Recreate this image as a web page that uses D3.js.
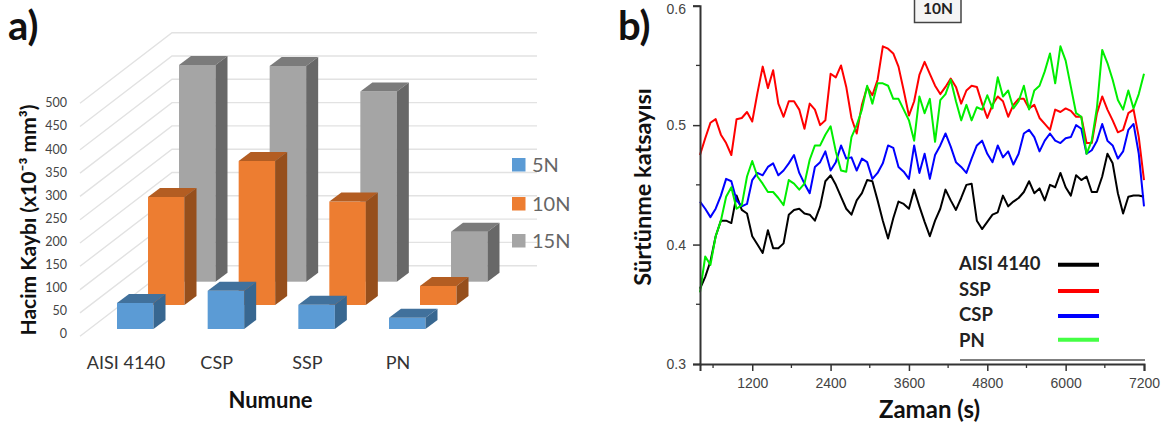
<!DOCTYPE html>
<html><head><meta charset="utf-8">
<script src="https://cdn.jsdelivr.net/npm/d3@7"></script>
<style>html,body{margin:0;padding:0;background:#fff}svg{display:block}</style>
</head><body><svg id="c" width="1169" height="428"></svg>
<script>
// ---- panel a data ----
const samples = ["AISI 4140","CSP","SSP","PN"];
const loads = ["5N","10N","15N"];
const wear5N = [56,82,52,24];
const wear10N = [232,309,222,41];
const wear15N = [465,463,408,107];
const wearTicks = [0,50,100,150,200,250,300,350,400,450,500];
// ---- panel b data ----
const timeS = [400,480,560,640,720,800,880,960,1040,1120,1200,1280,1360,1440,1520,1600,1680,1760,1840,1920,2000,2080,
2160,2240,2320,2400,2480,2560,2640,2720,2800,2880,2960,3040,3120,3200,3280,3360,3440,3520,3600,3680,3760,3840,
3920,4000,4080,4160,4240,4320,4400,4480,4560,4640,4720,4800,4880,4960,5040,5120,5200,5280,5360,5440,5520,
5600,5680,5760,5840,5920,6000,6080,6160,6240,6320,6400,6480,6560,6640,6720,6800,6880,6960,7040,7120,7200];
const cofAISI = [.363,.373,.386,.407,.420,.420,.418,.441,.429,.426,.407,.400,.393,.412,.397,.397,.401,.425,.429,.430,.426,.425,
.420,.432,.453,.458,.450,.440,.430,.425,.437,.443,.454,.453,.437,.420,.405,.422,.436,.434,.430,.446,.432,.419,
.407,.420,.430,.446,.437,.429,.439,.450,.451,.420,.413,.419,.425,.427,.441,.432,.436,.439,.444,.453,.443,
.447,.437,.450,.448,.460,.448,.441,.458,.454,.457,.444,.444,.457,.476,.468,.443,.426,.440,.441,.441,.440];
const cofSSP = [.475,.489,.502,.505,.492,.485,.475,.505,.506,.511,.503,.527,.549,.531,.546,.518,.507,.520,.520,.513,.497,.518,
.513,.500,.504,.543,.540,.550,.532,.506,.493,.517,.532,.525,.538,.566,.564,.560,.549,.529,.508,.520,.542,.553,
.543,.533,.526,.532,.539,.532,.518,.529,.533,.532,.518,.506,.517,.524,.520,.507,.517,.522,.522,.514,.517,
.506,.501,.496,.513,.511,.514,.512,.507,.507,.485,.485,.510,.524,.513,.504,.494,.496,.510,.513,.490,.454];
const cofCSP = [.436,.430,.423,.430,.441,.455,.453,.437,.432,.434,.454,.460,.458,.465,.468,.458,.462,.468,.475,.460,.451,.443,
.465,.469,.478,.462,.469,.483,.472,.473,.462,.472,.469,.455,.460,.468,.483,.481,.465,.461,.455,.483,.460,.476,
.455,.475,.483,.493,.482,.469,.465,.460,.472,.483,.487,.476,.469,.483,.473,.478,.467,.476,.493,.496,.490,
.478,.487,.493,.487,.485,.489,.490,.500,.497,.476,.479,.487,.501,.487,.483,.472,.478,.496,.501,.476,.432];
const cofPN = [.360,.390,.383,.407,.420,.440,.448,.430,.433,.457,.470,.457,.451,.444,.444,.439,.433,.454,.451,.446,.451,.471,
.483,.483,.492,.499,.478,.462,.461,.490,.500,.513,.533,.518,.535,.535,.533,.522,.522,.513,.504,.487,.524,.510,
.522,.486,.521,.526,.538,.520,.504,.517,.504,.515,.513,.525,.514,.540,.524,.529,.514,.520,.533,.513,.529,
.533,.545,.560,.535,.566,.554,.532,.510,.507,.476,.487,.515,.563,.552,.538,.521,.513,.529,.514,.526,.543];
const cofMajor = [0.3,0.4,0.5,0.6];
const cofMinor = [0.35,0.45,0.55];
const timeMajor = [1200,2400,3600,4800,6000,7200];
const timeMinor = [600,1800,3000,4200,5400,6600];
const legendNames = ["AISI 4140","SSP","CSP","PN"];

const svg = d3.select("#c");
const calibri = "Lato, 'Open Sans', sans-serif";
const bold = "Lato, 'Open Sans', sans-serif";
const arial = "'Liberation Sans', Arial, sans-serif";

// ---- panel a ----
const a = svg.append("g");
const wearH = d3.scaleLinear().domain([0,500]).range([0,233]);
const wearLabelY = d3.scaleLinear().domain([0,500]).range([334,103]);
const wallBase = 265.7, wallX = 172, wallRight = 537, sideX = 80, sideDrop = 70.5;
const grid = a.append("g").attr("stroke","#e2e2e2").attr("stroke-width",1.4).attr("fill","none");
wearTicks.forEach(v=>{
  const y = wallBase - wearH(v);
  grid.append("polyline").attr("points",`${sideX},${y+sideDrop} ${wallX},${y} ${wallRight},${y}`);
});
a.append("g").selectAll("text").data(wearTicks).join("text")
  .attr("x",67).attr("y",v=>wearLabelY(v)).attr("dy","0.35em").attr("text-anchor","end")
  .attr("font-family",calibri).attr("font-size",12.5).attr("fill","#444").text(v=>v);

const catX = d3.scaleLinear().domain([0,3]).range([117,389]);
const depthX = d3.scaleOrdinal().domain(loads).range([0,31,62]);
const baseY = d3.scaleOrdinal().domain(loads).range([329,305,281.7]);
const faceCol = d3.scaleOrdinal().domain(loads).range(["#5b9bd5","#ed7d31","#a5a5a5"]);
const topCol = d3.scaleOrdinal().domain(loads).range(["#41719c","#b35d22","#7b7b7b"]);
const sideCol = d3.scaleOrdinal().domain(loads).range(["#386790","#964f1c","#686868"]);
const wearByLoad = {"5N":wear5N,"10N":wear10N,"15N":wear15N};
const bw = 36.5, dx = 12, dy = 9;
loads.slice().reverse().forEach(load=>{
  const g = a.append("g");
  wearByLoad[load].forEach((v,i)=>{
    const x = catX(i)+depthX(load), y0 = baseY(load), y1 = y0-wearH(v);
    g.append("rect").attr("x",x).attr("y",y1).attr("width",bw).attr("height",y0-y1).attr("fill",faceCol(load));
    g.append("polygon").attr("points",`${x},${y1} ${x+dx},${y1-dy} ${x+bw+dx},${y1-dy} ${x+bw},${y1}`).attr("fill",topCol(load));
    g.append("polygon").attr("points",`${x+bw},${y1} ${x+bw+dx},${y1-dy} ${x+bw+dx},${y0-dy} ${x+bw},${y0}`).attr("fill",sideCol(load));
  });
});
a.append("g").selectAll("text").data(samples).join("text")
  .attr("x",(d,i)=>catX(i)+9).attr("y",369).attr("text-anchor","middle")
  .attr("font-family",calibri).attr("font-size",18).attr("fill","#333").text(d=>d);
const legA = a.append("g");
loads.forEach((l,i)=>{
  const y = [158,197,234][i];
  legA.append("rect").attr("x",512).attr("y",y).attr("width",13.5).attr("height",13.5).attr("fill",faceCol(l));
  legA.append("text").attr("x",532).attr("y",y+7).attr("dy","0.35em")
    .attr("font-family",calibri).attr("font-size",20).attr("fill","#666").text(l);
});
a.append("text").attr("transform","translate(36,220) rotate(-90)").attr("text-anchor","middle")
  .attr("font-family",bold).attr("font-weight",700).attr("font-size",21).attr("fill","#111").text("Hacim Kaybı (x10⁻³ mm³)");
a.append("text").attr("x",270.5).attr("y",408).attr("text-anchor","middle")
  .attr("font-family",bold).attr("font-weight",700).attr("font-size",22).attr("fill","#111").text("Numune");
a.append("text").attr("x",8).attr("y",40).attr("font-family",bold).attr("font-weight",700).attr("font-size",40).attr("fill","#111").text("a)");

// ---- panel b ----
const b = svg.append("g");
const x = d3.scaleLinear().domain([400,7200]).range([700,1144]);
const y = d3.scaleLinear().domain([0.3,0.6]).range([364,5.7]);
const line = d3.line().x((d,i)=>x(timeS[i])).y(d=>y(d)).curve(d3.curveLinear);
[[cofAISI,"#000"],[cofSSP,"#ff0000"],[cofCSP,"#0000ff"],[cofPN,"#00ee00"]].forEach(([s,c])=>{
  b.append("path").datum(s).attr("d",line).attr("fill","none").attr("stroke",c).attr("stroke-width",2).attr("stroke-linejoin","round");
});
const axY = d3.axisLeft(y).tickValues(cofMajor).tickFormat(d3.format(".1f")).tickSize(7).tickPadding(7);
const axX = d3.axisBottom(x).tickValues(timeMajor).tickFormat(d3.format("d")).tickSize(7).tickPadding(7);
const gy = b.append("g").attr("transform","translate(700,0)").call(axY);
const gx = b.append("g").attr("transform","translate(0,364)").call(axX);
[gy,gx].forEach(g=>{
  g.selectAll("path").attr("stroke","#333").attr("stroke-width",2);
  g.selectAll("line").attr("stroke","#333").attr("stroke-width",1.5);
  g.selectAll("text").attr("font-family",arial).attr("font-size",14).attr("fill","#444");
});
// nudge the topmost label so it stays inside the page
gy.selectAll("text").filter(d=>d===0.6).attr("y",3);
b.append("g").selectAll("line").data(cofMinor).join("line").attr("x1",696).attr("x2",700).attr("y1",y).attr("y2",y).attr("stroke","#333").attr("stroke-width",1.3);
b.append("g").selectAll("line").data(timeMinor).join("line").attr("x1",x).attr("x2",x).attr("y1",364).attr("y2",368).attr("stroke","#333").attr("stroke-width",1.3);
b.append("line").attr("x1",960).attr("x2",1145).attr("y1",360).attr("y2",360).attr("stroke","#555").attr("stroke-width",1.6);

const legCols = ["#000","#ff0000","#0000ff","#44ff44"];
legendNames.forEach((n,i)=>{
  b.append("text").attr("x",959).attr("y",[270,296,321,347][i]).attr("font-family",bold).attr("font-weight",700).attr("font-size",18.5).attr("fill","#222").text(n);
  const ly = [264.7,291,316,339.7][i];
  b.append("line").attr("x1",1058).attr("x2",1099).attr("y1",ly).attr("y2",ly).attr("stroke",legCols[i]).attr("stroke-width",4);
});
b.append("rect").attr("x",914.5).attr("y",-4).attr("width",46.5).attr("height",26.5).attr("fill","#f5f5f5").attr("stroke","#444").attr("stroke-width",1.5);
b.append("text").attr("x",938).attr("y",9).attr("dy","0.35em").attr("text-anchor","middle").attr("font-family",bold).attr("font-weight",700).attr("font-size",15.5).attr("fill","#222").text("10N");
b.append("text").attr("transform","translate(651,187) rotate(-90)").attr("text-anchor","middle")
  .attr("font-family",bold).attr("font-weight",700).attr("font-size",23.5).attr("fill","#111").text("Sürtünme katsayısı");
b.append("text").attr("x",929.5).attr("y",418).attr("text-anchor","middle")
  .attr("font-family",bold).attr("font-weight",700).attr("font-size",24).attr("fill","#111").text("Zaman (s)");
b.append("text").attr("x",618).attr("y",40).attr("font-family",bold).attr("font-weight",700).attr("font-size",40).attr("fill","#111").text("b)");
</script></body></html>
